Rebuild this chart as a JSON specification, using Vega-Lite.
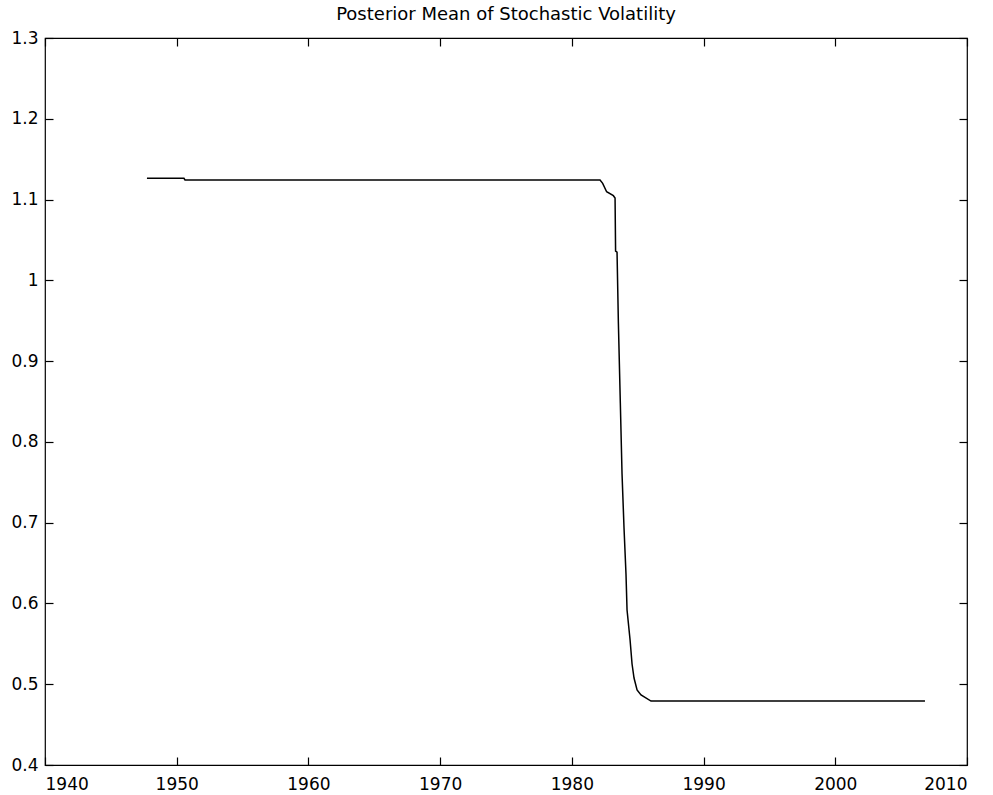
{
  "$schema": "https://vega.github.io/schema/vega-lite/v6.json",
  "width": 922,
  "height": 727,
  "autosize": {"type": "none"},
  "padding": {"left": 45, "top": 38, "right": 26, "bottom": 30},
  "background": "white",
  "title": {
    "text": "Posterior Mean of Stochastic Volatility",
    "font": "DejaVu Sans",
    "fontSize": 18,
    "fontWeight": "normal",
    "color": "black",
    "offset": 5
  },
  "data": {
    "values": [
      {"year": 1947.74, "vol": 1.1263},
      {"year": 1950.55, "vol": 1.1263},
      {"year": 1950.63, "vol": 1.1242},
      {"year": 1982.14, "vol": 1.1242},
      {"year": 1982.34, "vol": 1.1201},
      {"year": 1982.64, "vol": 1.1097},
      {"year": 1983.15, "vol": 1.1048},
      {"year": 1983.28, "vol": 1.102},
      {"year": 1983.32, "vol": 1.0363},
      {"year": 1983.43, "vol": 1.035},
      {"year": 1983.53, "vol": 0.9488},
      {"year": 1983.68, "vol": 0.8482},
      {"year": 1983.81, "vol": 0.7603},
      {"year": 1983.96, "vol": 0.6934},
      {"year": 1984.11, "vol": 0.6365},
      {"year": 1984.19, "vol": 0.5919},
      {"year": 1984.42, "vol": 0.5548},
      {"year": 1984.57, "vol": 0.525},
      {"year": 1984.72, "vol": 0.5077},
      {"year": 1984.95, "vol": 0.4929},
      {"year": 1985.25, "vol": 0.4867},
      {"year": 1986.01, "vol": 0.4792},
      {"year": 2006.81, "vol": 0.4792}
    ]
  },
  "config": {
    "view": {"stroke": "black", "strokeWidth": 1.2},
    "axis": {
      "grid": false,
      "domain": false,
      "ticks": true,
      "tickColor": "black",
      "tickSize": -8,
      "tickWidth": 1.2,
      "labelFont": "DejaVu Sans",
      "labelFontSize": 17,
      "labelColor": "black",
      "labelOverlap": false,
      "title": null
    }
  },
  "layer": [
    {
      "mark": {"type": "line", "color": "black", "strokeWidth": 1.5},
      "encoding": {
        "x": {
          "field": "year",
          "type": "quantitative",
          "scale": {"domain": [1940, 2010], "nice": false, "zero": false},
          "axis": {"values": [1940, 1950, 1960, 1970, 1980, 1990, 2000, 2010], "format": "d", "labelPadding": 19, "orient": "bottom"}
        },
        "y": {
          "field": "vol",
          "type": "quantitative",
          "scale": {"domain": [0.4, 1.3], "nice": false, "zero": false},
          "axis": {"values": [0.4, 0.5, 0.6, 0.7, 0.8, 0.9, 1, 1.1, 1.2, 1.3], "format": "~g", "labelPadding": 15, "orient": "left"}
        }
      }
    },
    {
      "mark": {"type": "line", "opacity": 0},
      "encoding": {
        "x": {
          "field": "year",
          "type": "quantitative",
          "axis": {"values": [1940, 1950, 1960, 1970, 1980, 1990, 2000, 2010], "labels": false, "orient": "top"}
        },
        "y": {
          "field": "vol",
          "type": "quantitative",
          "axis": {"values": [0.4, 0.5, 0.6, 0.7, 0.8, 0.9, 1, 1.1, 1.2, 1.3], "labels": false, "orient": "right"}
        }
      }
    }
  ],
  "resolve": {"axis": {"x": "independent", "y": "independent"}}
}
